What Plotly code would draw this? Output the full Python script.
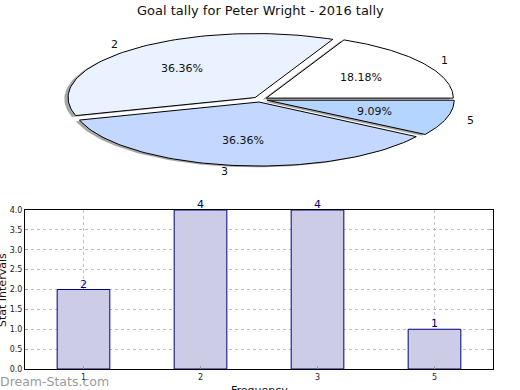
import numpy as np
import plotly.graph_objects as go

# ---- data ----
categories = ["1", "2", "3", "5"]
values = [2, 4, 4, 1]
pie_colors = ["#ffffff", "#ebf2ff", "#c3d7ff", "#b4d5ff"]
yticks = [0, 0.5, 1, 1.5, 2, 2.5, 3, 3.5, 4]
title = "Goal tally for Peter Wright - 2016 tally"

# ---- pie geometry (pixel space of pie axes) ----
cx, cy, rx, ry = 260.0, 99.5, 187.0, 64.0
explode = 0.04
shadow_off = 0.02

fig = go.Figure()

total = float(sum(values))
fracs = [v / total for v in values]
starts = np.concatenate([[0.0], np.cumsum(fracs)[:-1]]) * 360.0
ends = np.cumsum(fracs) * 360.0


def wedge(t1, t2, ox, oy):
    th = np.radians(np.linspace(t1, t2, 80))
    xs = np.concatenate([[ox], ox + rx * np.cos(th), [ox]])
    ys = np.concatenate([[oy], oy - ry * np.sin(th), [oy]])
    return xs, ys


offsets = []
for t1, t2 in zip(starts, ends):
    mid = np.radians((t1 + t2) / 2)
    offsets.append((cx + explode * rx * np.cos(mid), cy - explode * ry * np.sin(mid), mid))

# shadows
for (t1, t2), (ox, oy, mid) in zip(zip(starts, ends), offsets):
    xs, ys = wedge(t1, t2, ox - shadow_off * rx, oy + shadow_off * ry)
    fig.add_trace(go.Scatter(x=xs, y=ys, mode="lines", fill="toself",
                             fillcolor="rgba(77,77,77,0.5)", line=dict(width=0),
                             xaxis="x3", yaxis="y3", hoverinfo="skip", showlegend=False))
# wedges
for i, ((t1, t2), (ox, oy, mid)) in enumerate(zip(zip(starts, ends), offsets)):
    xs, ys = wedge(t1, t2, ox, oy)
    fig.add_trace(go.Scatter(x=xs, y=ys, mode="lines", fill="toself",
                             fillcolor=pie_colors[i], line=dict(color="black", width=1),
                             xaxis="x3", yaxis="y3", hoverinfo="skip", showlegend=False))

annotations = []
for i, (ox, oy, mid) in enumerate(offsets):
    lx = ox + 1.1 * rx * np.cos(mid)
    ly = oy - 1.1 * ry * np.sin(mid)
    annotations.append(dict(x=lx, y=ly, xref="x3", yref="y3", text=categories[i],
                            showarrow=False, xanchor="left" if np.cos(mid) > 0 else "right",
                            yanchor="middle", font=dict(size=11, color="#111")))
    px = ox + 0.6 * rx * np.cos(mid)
    py = oy - 0.6 * ry * np.sin(mid)
    annotations.append(dict(x=px, y=py, xref="x3", yref="y3",
                            text="%.2f%%" % (fracs[i] * 100), showarrow=False,
                            xanchor="center", yanchor="middle", font=dict(size=11, color="#111")))

# ---- bars ----
fig.add_trace(go.Bar(x=categories, y=values, width=0.45,
                     marker=dict(color="#ccccE6", line=dict(color="#000080", width=1)),
                     xaxis="x2", yaxis="y2", showlegend=False, hoverinfo="skip"))
for i, v in enumerate(values):
    annotations.append(dict(x=i, y=v, xref="x2", yref="y2", text=str(v), showarrow=False,
                            xanchor="center", yanchor="bottom", yshift=-3,
                            font=dict(size=11, color="#000080")))

W, H = 520, 390
annotations += [
    dict(x=0.5, y=1 - 10 / H, xref="paper", yref="paper", text=title, showarrow=False,
         xanchor="center", yanchor="middle", font=dict(size=13, color="#111")),
    dict(x=2 / W, y=1 - 290 / H, xref="paper", yref="paper", text="Stat Intervals",
         textangle=-90, showarrow=False, xanchor="center", yanchor="middle",
         font=dict(size=11, color="#111")),
    dict(x=259 / W, y=1 - 390 / H, xref="paper", yref="paper", text="Frequency",
         showarrow=False, xanchor="center", yanchor="middle",
         font=dict(size=11, color="#111")),
    dict(x=0, y=1 - 381 / H, xref="paper", yref="paper", text="Dream-Stats.com",
         showarrow=False, xanchor="left", yanchor="middle", xshift=-2,
         font=dict(size=12.5, color="#9a9a9a", family="DejaVu Sans")),
]

fig.update_layout(
    width=W, height=H, margin=dict(l=0, r=0, t=0, b=0, autoexpand=False),
    paper_bgcolor="white", plot_bgcolor="rgba(0,0,0,0)",
    font=dict(family="DejaVu Sans", color="#111"),
    showlegend=False,
    annotations=annotations,
    xaxis3=dict(domain=[0, 1], range=[0, W], visible=False, anchor="y3", automargin=False),
    yaxis3=dict(domain=[0, 1], range=[H, 0], visible=False, anchor="x3", automargin=False),
    xaxis2=dict(domain=[25 / W, 493 / W], anchor="y2", type="category", automargin=False,
                categoryorder="array", categoryarray=categories, range=[-0.5, 3.5],
                showline=True, linecolor="black", linewidth=1, mirror=True,
                showgrid=True, gridcolor="#c0c0c0", griddash="dot", gridwidth=1,
                ticks="inside", ticklen=3, tickcolor="#999",
                tickfont=dict(size=8, color="#222"), zeroline=False),
    yaxis2=dict(domain=[1 - 369 / H, 1 - 210 / H], anchor="x2", range=[0, 4], automargin=False,
                tickvals=yticks, tickformat=".1f",
                showline=True, linecolor="black", linewidth=1, mirror="allticks",
                showgrid=True, gridcolor="#c0c0c0", griddash="dot", gridwidth=1,
                ticks="inside", ticklen=3, tickcolor="#999",
                tickfont=dict(size=8, color="#222"), zeroline=False),
)

fig.write_html("out.html", config={"displayModeBar": False},
               post_script="document.body.style.margin='0';document.body.style.overflow='hidden';")
